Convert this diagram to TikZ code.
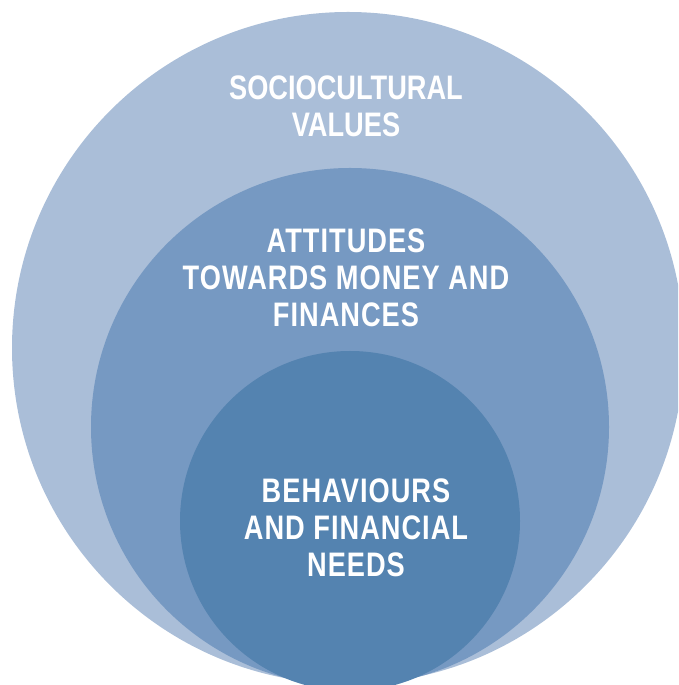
\documentclass[tikz,border=0pt]{standalone}
\usepackage{fontspec}
\setmainfont{Liberation Sans}[FakeStretch=0.8]
\usepackage{tikz}
\usetikzlibrary{positioning}

\definecolor{ringout}{HTML}{AABED8}
\definecolor{ringmid}{HTML}{7699C2}
\definecolor{ringin}{HTML}{5483B0}

\begin{document}
\begin{tikzpicture}[
            x = 1pt, y = 1pt, % one unit per pixel
            inner sep = 0pt
        ]

        \tikzstyle{ring}=[
            circle,
            draw = none
        ]
        \tikzstyle{caption}=[
            align = center,
            text = white,
            font = \bfseries\fontsize{34}{37}\selectfont
        ]
        \tikzstyle{widecaption}=[
            caption,
            font = \bfseries\fontsize{34}{37}\selectfont\addfontfeature{LetterSpace=3}
        ]

        \useasboundingbox (0,0) rectangle (678,685);
        \clip (0,0) rectangle (678,685);

        \node[ring, fill = ringout, minimum size = 672] (outer) at (348,337) {};
        \node[ring, fill = ringmid, minimum size = 518] (middle) at (350,258) {};
        \node[ring, fill = ringin, minimum size = 340] (inner) at (350,164) {};

        \node[caption] (values) at (346,579) {SOCIOCULTURAL\\VALUES};
        \node[widecaption] (attitudes) at (346,407.5) {ATTITUDES\\TOWARDS MONEY AND\\FINANCES};
        \node[widecaption] (needs) at (356,157.5) {BEHAVIOURS\\AND FINANCIAL\\NEEDS};

  \end{tikzpicture}
\end{document}
